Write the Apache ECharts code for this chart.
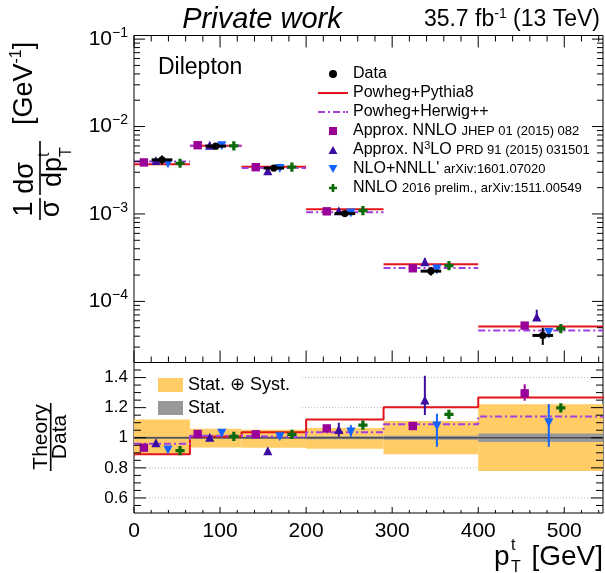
<!DOCTYPE html>
<html>
<head>
<meta charset="utf-8">
<script src="https://cdn.jsdelivr.net/npm/echarts@6/dist/echarts.min.js"></script>
<style>
html, body { margin: 0; padding: 0; background: #fff; }
#chart { width: 605px; height: 573px; }
</style>
</head>
<body>
<div id="chart"></div>
<script>
// bins of the top-quark pT (GeV)
var binEdges = [0, 65, 125, 200, 290, 400, 550];
// normalised cross section of the data, 1/GeV
var dataXsec = [4.16e-3, 5.97e-3, 3.35e-3, 1.01e-3, 2.22e-4, 4.08e-5];
// relative uncertainties of the data
var totUp = [1.122, 1.060, 1.053, 1.064, 1.111, 1.222];
var totDown = [0.885, 0.936, 0.934, 0.927, 0.890, 0.779];
var statRel = [0.006, 0.006, 0.007, 0.010, 0.013, 0.029];

// theory / data
var pythiaRatio = [0.890, 1.009, 1.036, 1.122, 1.202, 1.268];
var herwigRatio = [0.960, 1.013, 1.003, 1.036, 1.089, 1.142];
var nnloApproxRatio = [0.934, 1.025, 1.023, 1.062, 1.078, 1.295];
var nnloApproxLo = [0.934, 1.025, 1.023, 1.062, 1.070, 1.246];
var nnloApproxHi = [0.934, 1.025, 1.023, 1.062, 1.086, 1.355];
var n3loRatio = [0.960, 0.996, 0.907, 1.049, 1.244, 1.580];
var n3loLo = [0.960, 0.996, 0.907, 1.007, 1.151, 1.520];
var n3loHi = [0.960, 0.996, 0.907, 1.100, 1.412, 1.970];
var nlonnllRatio = [0.925, 1.036, 1.013, 1.045, 1.084, 1.106];
var nlonnllLo = [0.925, 1.036, 1.013, 1.007, 0.940, 0.940];
var nlonnllHi = [0.925, 1.036, 1.013, 1.084, 1.160, 1.224];
var nnloRatio = [0.914, 1.009, 1.023, 1.084, 1.155, 1.199];

// axis ticks and labels
var xTicks = [0, 100, 200, 300, 400, 500];
var xTickLabels = ['0', '100', '200', '300', '400', '500'];
var topYTicks = [1e-4, 1e-3, 1e-2, 1e-1];
var topYLabels = ['\u22124', '\u22123', '\u22122', '\u22121'];
var ratioYTicks = [0.6, 0.8, 1, 1.2, 1.4];
var ratioYLabels = ['0.6', '0.8', '1', '1.2', '1.4'];
var ratioGrid = [0.6, 0.8, 1.2, 1.4];

var FONT = '"Liberation Sans", Arial, Helvetica, sans-serif';
var RED = '#e3141b', VIOLET = '#a040e0', MAGENTA = '#990099', INDIGO = '#3a0ca0',
    BLUE = '#1463ff', GREEN = '#0b6b0b', BAND = '#ffcc66', STAT = '#999999';

var X_MAX = 545, TOP_MIN = 2e-5, TOP_MAX = 0.11, R_MIN = 0.5, R_MAX = 1.5;

var centers = binEdges.slice(0, -1).map(function (lo, i) { return (lo + binEdges[i + 1]) / 2; });

var xMinor = [];
for (var v = 20; v < X_MAX; v += 20) { if (v % 100) xMinor.push(v); }
var topYMinor = [];
for (var e = -5; e <= -2; e++) {
  for (var k = 2; k <= 9; k++) {
    var t = k * Math.pow(10, e);
    if (t > TOP_MIN && t < TOP_MAX) topYMinor.push(t);
  }
}
var ratioYMinor = [];
for (var r = 0.55; r < 1.5; r += 0.05) {
  var rr = Math.round(r * 100) / 100;
  if (Math.round(rr * 100) % 20 !== 0) ratioYMinor.push(rr);
}

function marker(shape, cx, cy, color) {
  var s = { fill: color };
  if (shape === 'circle') return { type: 'circle', shape: { cx: cx, cy: cy, r: 3.6 }, style: s };
  if (shape === 'square') return { type: 'rect', shape: { x: cx - 4.2, y: cy - 4.2, width: 8.4, height: 8.4 }, style: s };
  if (shape === 'tri') return { type: 'polygon', shape: { points: [[cx, cy - 5.5], [cx - 4.6, cy + 3.5], [cx + 4.6, cy + 3.5]] }, style: s };
  if (shape === 'itri') return { type: 'polygon', shape: { points: [[cx - 4.6, cy - 3.5], [cx + 4.6, cy - 3.5], [cx, cy + 5.5]] }, style: s };
  var a = 4.6, w = 1.6;
  return { type: 'polygon', shape: { points: [
    [cx - w, cy - a], [cx + w, cy - a], [cx + w, cy - w], [cx + a, cy - w], [cx + a, cy + w], [cx + w, cy + w],
    [cx + w, cy + a], [cx - w, cy + a], [cx - w, cy + w], [cx - a, cy + w], [cx - a, cy - w], [cx - w, cy - w]] }, style: s };
}

function clampY(y, cs) { return Math.max(cs.y, Math.min(cs.y + cs.height, y)); }

// theory points with vertical error bars
function pointSeries(name, g, ratio, lo, hi, shift, shape, color) {
  var items = ratio.map(function (q, i) {
    var f = g === 0 ? dataXsec[i] : 1;
    return [centers[i] + shift, q * f, lo[i] * f, hi[i] * f];
  });
  return {
    type: 'custom', name: name, xAxisIndex: g, yAxisIndex: g, z: 6,
    itemStyle: { color: color }, encode: { x: 0, y: 1 }, data: items,
    renderItem: function (params, api) {
      var cs = params.coordSys, ch = [];
      var p = api.coord([api.value(0), api.value(1)]);
      if (api.value(3) > api.value(2)) {
        var a = api.coord([api.value(0), api.value(2)]), b = api.coord([api.value(0), api.value(3)]);
        var y1 = clampY(a[1], cs), y2 = clampY(b[1], cs);
        if (y1 !== y2) ch.push({ type: 'line', shape: { x1: a[0], y1: y1, x2: b[0], y2: y2 }, style: { stroke: color, lineWidth: 2 } });
      }
      if (p[1] >= cs.y && p[1] <= cs.y + cs.height) ch.push(marker(shape, p[0], p[1], color));
      return { type: 'group', children: ch };
    }
  };
}

// separate horizontal segments per bin (top panel)
function histSeries(name, ratio, color, dash) {
  return {
    type: 'custom', name: name, xAxisIndex: 0, yAxisIndex: 0, z: 4,
    itemStyle: { color: color }, encode: { x: [0, 1], y: 2 },
    data: ratio.map(function (q, i) { return [binEdges[i], binEdges[i + 1], q * dataXsec[i]]; }),
    renderItem: function (params, api) {
      var cs = params.coordSys;
      var a = api.coord([api.value(0), api.value(2)]), b = api.coord([api.value(1), api.value(2)]);
      return { type: 'line', shape: { x1: a[0], y1: a[1], x2: Math.min(b[0], cs.x + cs.width), y2: b[1] },
        style: { stroke: color, lineWidth: 2, lineDash: dash } };
    }
  };
}

function stepData(ratio) {
  var d = ratio.map(function (q, i) { return [binEdges[i], q]; });
  d.push([binEdges[binEdges.length - 1], ratio[ratio.length - 1]]);
  return d;
}

function bandSeries(name, down, up, color, z, withLine) {
  return {
    type: 'custom', name: name, xAxisIndex: 1, yAxisIndex: 1, z: z,
    itemStyle: { color: color }, encode: { x: [0, 1], y: [2, 3] },
    data: down.map(function (dv, i) { return [binEdges[i], binEdges[i + 1], dv, up[i]]; }),
    renderItem: function (params, api) {
      var cs = params.coordSys;
      var a = api.coord([api.value(0), api.value(3)]), b = api.coord([api.value(1), api.value(2)]);
      var x2 = Math.min(b[0], cs.x + cs.width);
      var ch = [{ type: 'rect', shape: { x: a[0], y: a[1], width: x2 - a[0], height: b[1] - a[1] }, style: { fill: color } }];
      if (withLine) {
        var c = api.coord([api.value(0), 1]);
        ch.push({ type: 'line', shape: { x1: a[0], y1: c[1], x2: x2, y2: c[1] }, style: { stroke: '#4d4d4d', lineWidth: 1.6 } });
      }
      return { type: 'group', children: ch };
    }
  };
}

function tickSeries(g, spec) {
  return {
    type: 'custom', xAxisIndex: g, yAxisIndex: g, z: 10, silent: true,
    encode: { x: 0, y: 1 }, data: [[100, spec.anchor]],
    renderItem: function (params, api) {
      var cs = params.coordSys, L = cs.x, R = cs.x + cs.width, T = cs.y, B = cs.y + cs.height, ch = [];
      function seg(x1, y1, x2, y2) { ch.push({ type: 'line', shape: { x1: x1, y1: y1, x2: x2, y2: y2 }, style: { stroke: '#000', lineWidth: 1 } }); }
      function yt(list, len) { list.forEach(function (q) { var y = api.coord([0, q])[1]; seg(L, y, L + len, y); seg(R, y, R - len, y); }); }
      function xt(list, lenB, lenT) {
        list.forEach(function (q) {
          var x = api.coord([q, spec.anchor])[0];
          if (lenB) seg(x, B, x, B - lenB);
          if (lenT) seg(x, T, x, T + lenT);
        });
      }
      yt(spec.yMajor, spec.yMajLen); yt(spec.yMinor, spec.yMinLen);
      xt(xTicks, spec.xMajB, spec.xMajT); xt(xMinor, spec.xMinB, spec.xMinT);
      spec.yMajor.forEach(function (q, i) {
        var y = api.coord([0, q])[1];
        ch.push({ type: 'text', x: L - 6, y: y, style: spec.yLabel(i) });
      });
      if (spec.xLabels) {
        xTicks.forEach(function (q, i) {
          var x = api.coord([q, spec.anchor])[0];
          ch.push({ type: 'text', x: x, y: B + 8, style: { text: xTickLabels[i], fontSize: 21, fontFamily: FONT, fill: '#000',
            align: 'center', textAlign: 'center', verticalAlign: 'top', textVerticalAlign: 'top' } });
        });
      }
      return { type: 'group', children: ch };
    }
  };
}

var gridSeries = {
  type: 'custom', xAxisIndex: 1, yAxisIndex: 1, z: 0, silent: true,
  encode: { x: 0, y: 1 }, data: ratioGrid.map(function (q) { return [0, q]; }),
  renderItem: function (params, api) {
    var cs = params.coordSys, y = api.coord([0, api.value(1)])[1];
    return { type: 'line', shape: { x1: cs.x, y1: y, x2: cs.x + cs.width, y2: y }, style: { stroke: '#b8b8b8', lineWidth: 1, lineDash: [1, 2] } };
  }
};

var dataSeries = {
  type: 'custom', name: 'Data', xAxisIndex: 0, yAxisIndex: 0, z: 8,
  itemStyle: { color: '#000' }, encode: { x: 0, y: 1 },
  data: dataXsec.map(function (d, i) { return [centers[i], d, d * totDown[i], d * totUp[i]]; }),
  renderItem: function (params, api) {
    var p = api.coord([api.value(0), api.value(1)]);
    var a = api.coord([api.value(0), api.value(2)]), b = api.coord([api.value(0), api.value(3)]);
    var l = api.coord([api.value(0) - 12, api.value(1)]), r = api.coord([api.value(0) + 12, api.value(1)]);
    return { type: 'group', children: [
      { type: 'line', shape: { x1: a[0], y1: a[1], x2: b[0], y2: b[1] }, style: { stroke: '#000', lineWidth: 2 } },
      { type: 'line', shape: { x1: l[0], y1: l[1], x2: r[0], y2: r[1] }, style: { stroke: '#000', lineWidth: 3 } },
      marker('circle', p[0], p[1], '#000')
    ] };
  }
};

var topTicks = tickSeries(0, {
  anchor: 1e-3, yMajor: topYTicks, yMinor: topYMinor, yMajLen: 11, yMinLen: 6,
  xMajB: 12, xMinB: 6, xMajT: 12, xMinT: 6, xLabels: false,
  yLabel: function (i) {
    return { text: '{b|10}{s|' + topYLabels[i] + '}', fill: '#000', align: 'right', textAlign: 'right',
      verticalAlign: 'middle', textVerticalAlign: 'middle',
      rich: { b: { fontSize: 21, fontFamily: FONT, lineHeight: 26 }, s: { fontSize: 14, fontFamily: FONT, lineHeight: 6, verticalAlign: 'top' } } };
  }
});
var ratioTicks = tickSeries(1, {
  anchor: 1, yMajor: ratioYTicks, yMinor: ratioYMinor, yMajLen: 12, yMinLen: 7,
  xMajB: 6, xMinB: 3, xMajT: 0, xMinT: 0, xLabels: true,
  yLabel: function (i) {
    return { text: ratioYLabels[i], fontSize: 17, fontFamily: FONT, fill: '#000', align: 'right', textAlign: 'right',
      verticalAlign: 'middle', textVerticalAlign: 'middle' };
  }
});

var legendRich = {
  m: { fontSize: 16, fontFamily: FONT, lineHeight: 19, color: '#000' },
  s: { fontSize: 13, fontFamily: FONT, lineHeight: 19, color: '#000' },
  u: { fontSize: 11, fontFamily: FONT, lineHeight: 4, verticalAlign: 'top', color: '#000' }
};
var legendSmall = {
  'Approx. NNLO': 'JHEP 01 (2015) 082',
  "NLO+NNLL'": 'arXiv:1601.07020',
  'NNLO': '2016 prelim., arXiv:1511.00549'
};

function txt(text, x, y, size, align, extra) {
  var st = { text: text, fontSize: size, fontFamily: FONT, fill: '#000', align: align, textAlign: align,
    verticalAlign: 'middle', textVerticalAlign: 'middle' };
  for (var key in (extra || {})) st[key] = extra[key];
  return { type: 'text', x: x, y: y, style: st };
}
function bar(x1, x2, y) { return { type: 'line', shape: { x1: x1, y1: y, x2: x2, y2: y }, style: { stroke: '#000', lineWidth: 1.6 } }; }

var option = {
  backgroundColor: '#fff',
  animation: false,
  grid: [
    { left: 134, top: 35.5, width: 469, height: 327, show: true, borderColor: '#000', borderWidth: 1, backgroundColor: 'transparent' },
    { left: 134, top: 362.5, width: 469, height: 150.5, show: true, borderColor: '#000', borderWidth: 1, backgroundColor: 'transparent' }
  ],
  xAxis: [
    { type: 'value', gridIndex: 0, min: 0, max: X_MAX, show: false },
    { type: 'value', gridIndex: 1, min: 0, max: X_MAX, show: false }
  ],
  yAxis: [
    { type: 'log', gridIndex: 0, min: TOP_MIN, max: TOP_MAX, logBase: 10, show: false },
    { type: 'value', gridIndex: 1, min: R_MIN, max: R_MAX, show: false }
  ],
  legend: [
    {
      left: 313, top: 59.5, orient: 'vertical', itemWidth: 30, itemHeight: 8, itemGap: 0, selectedMode: false,
      textStyle: { fontSize: 16, fontFamily: FONT, color: '#000', lineHeight: 19, rich: legendRich },
      formatter: function (name) {
        if (name === 'Approx. N3LO') return '{m|Approx. N}{u|3}{m|LO} {s|PRD 91 (2015) 031501}';
        if (legendSmall[name]) return '{m|' + name + '} {s|' + legendSmall[name] + '}';
        return '{m|' + name + '}';
      },
      data: [
        { name: 'Data', icon: 'circle', itemStyle: { color: '#000' } },
        { name: 'Powheg+Pythia8', icon: 'path://M0,0H30V2H0Z', itemStyle: { color: RED } },
        { name: 'Powheg+Herwig++', icon: 'path://M0,0H7V2H0Z M10,0H12V2H10Z M15,0H22V2H15Z M25,0H27V2H25Z M28,0H30V2H28Z', itemStyle: { color: VIOLET } },
        { name: 'Approx. NNLO', icon: 'path://M0,0H8V8H0Z', itemStyle: { color: MAGENTA } },
        { name: 'Approx. N3LO', icon: 'path://M5,0L10,9H0Z', itemStyle: { color: INDIGO } },
        { name: "NLO+NNLL'", icon: 'path://M0,0H10L5,9Z', itemStyle: { color: BLUE } },
        { name: 'NNLO', icon: 'path://M3,0H6V3H9V6H6V9H3V6H0V3H3Z', itemStyle: { color: GREEN } }
      ]
    },
    {
      left: 153, top: 370, orient: 'vertical', itemWidth: 25, itemHeight: 14, itemGap: 3, selectedMode: false,
      textStyle: { fontSize: 18, fontFamily: FONT, color: '#000', lineHeight: 20 },
      data: [
        { name: 'Stat. \u2295 Syst.', icon: 'rect', itemStyle: { color: BAND } },
        { name: 'Stat.', icon: 'rect', itemStyle: { color: STAT } }
      ]
    }
  ],
  graphic: [
    { type: 'rect', z: 1, shape: { x: 135, y: 363.5, width: 165, height: 52 }, style: { fill: '#fff' } },
    txt('Private work', 262, 20, 29, 'center', { fontStyle: 'italic' }),
    { type: 'text', x: 600, y: 20, style: { text: '{a|35.7 fb}{s|-1}{a| (13 TeV)}', fill: '#000', align: 'right', textAlign: 'right',
      verticalAlign: 'middle', textVerticalAlign: 'middle',
      rich: { a: { fontSize: 23, fontFamily: FONT, lineHeight: 26 }, s: { fontSize: 14, fontFamily: FONT, lineHeight: 6, verticalAlign: 'top' } } } },
    txt('Dilepton', 158, 68, 23, 'left'),
    {
      type: 'group', x: 40, y: 245, rotation: Math.PI / 2,
      children: [
        txt('1', 36, -15, 27, 'center'),
        bar(25, 47, 0),
        txt('\u03c3', 36, 12, 27, 'center'),
        txt('d\u03c3', 67, -14, 27, 'center'),
        bar(50, 104, 0),
        txt('dp', 58, 14, 27, 'left'),
        txt('t', 88, 5, 16, 'left'),
        txt('T', 88, 27, 16, 'left'),
        { type: 'text', x: 120, y: -15, style: { text: '{a|[GeV}{s|-1}{a|]}', fill: '#000', align: 'left', textAlign: 'left',
          verticalAlign: 'middle', textVerticalAlign: 'middle',
          rich: { a: { fontSize: 27, fontFamily: FONT, lineHeight: 32 }, s: { fontSize: 16, fontFamily: FONT, lineHeight: 6, verticalAlign: 'top' } } } }
      ]
    },
    {
      type: 'group', x: 50.7, y: 437, rotation: Math.PI / 2,
      children: [
        txt('Theory', 0, -9, 21, 'center'),
        bar(-34, 34, 0),
        txt('Data', 0, 10, 21, 'center')
      ]
    },
    txt('p', 494, 557, 28, 'left'),
    txt('t', 511, 546, 16, 'left'),
    txt('T', 511, 568, 16, 'left'),
    txt('[GeV]', 603, 557, 28, 'right')
  ],
  series: [
    gridSeries,
    bandSeries('Stat. \u2295 Syst.', totDown, totUp, BAND, 2, false),
    bandSeries('Stat.', statRel.map(function (s) { return 1 - s; }), statRel.map(function (s) { return 1 + s; }), STAT, 3, true),
    histSeries('Powheg+Pythia8', pythiaRatio, RED, null),
    histSeries('Powheg+Herwig++', herwigRatio, VIOLET, [7, 3, 2, 3]),
    { type: 'line', name: 'Powheg+Pythia8', xAxisIndex: 1, yAxisIndex: 1, z: 4, step: 'end', symbol: 'none',
      data: stepData(pythiaRatio), lineStyle: { color: RED, width: 2 }, itemStyle: { color: RED } },
    { type: 'line', name: 'Powheg+Herwig++', xAxisIndex: 1, yAxisIndex: 1, z: 4, step: 'end', symbol: 'none',
      data: stepData(herwigRatio), lineStyle: { color: VIOLET, width: 2, type: [7, 3, 2, 3] }, itemStyle: { color: VIOLET } },
    pointSeries('Approx. NNLO', 0, nnloApproxRatio, nnloApproxLo, nnloApproxHi, -21, 'square', MAGENTA),
    pointSeries('Approx. N3LO', 0, n3loRatio, n3loLo, n3loHi, -7, 'tri', INDIGO),
    pointSeries("NLO+NNLL'", 0, nlonnllRatio, nlonnllLo, nlonnllHi, 7, 'itri', BLUE),
    pointSeries('NNLO', 0, nnloRatio, nnloRatio, nnloRatio, 21, 'plus', GREEN),
    pointSeries('Approx. NNLO', 1, nnloApproxRatio, nnloApproxLo, nnloApproxHi, -21, 'square', MAGENTA),
    pointSeries('Approx. N3LO', 1, n3loRatio, n3loLo, n3loHi, -7, 'tri', INDIGO),
    pointSeries("NLO+NNLL'", 1, nlonnllRatio, nlonnllLo, nlonnllHi, 7, 'itri', BLUE),
    pointSeries('NNLO', 1, nnloRatio, nnloRatio, nnloRatio, 21, 'plus', GREEN),
    dataSeries,
    topTicks,
    ratioTicks
  ]
};

var chart = echarts.init(document.getElementById('chart'));
chart.setOption(option);
</script>
</body>
</html>
